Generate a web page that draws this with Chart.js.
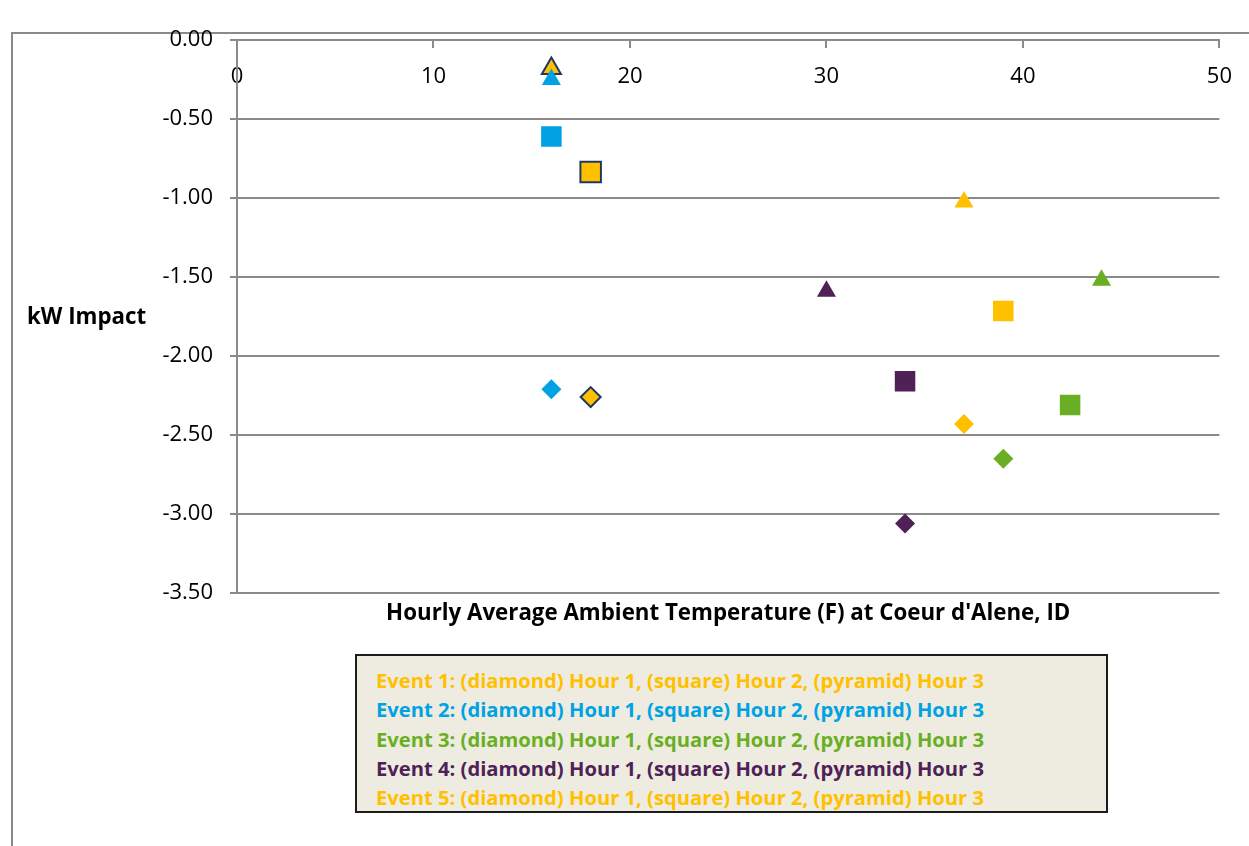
<!DOCTYPE html>
<html>
<head>
<meta charset="utf-8">
<script src="https://cdn.jsdelivr.net/npm/chart.js@4.4.1/dist/chart.umd.min.js"></script>
<style>
  html, body { margin: 0; padding: 0; background: #fff; }
  #wrap { position: relative; width: 1249px; height: 846px; overflow: hidden; }
  #frame { position: absolute; left: 11px; top: 32px; right: -10px; bottom: -10px;
           border-top: 2px solid #8a8a8a; border-left: 2px solid #8a8a8a; }
  #chart { position: absolute; left: 0; top: 0; }
  #legend { position: absolute; left: 355px; top: 654px; width: 753px; height: 159px;
            box-sizing: border-box; background: #EEECE1; border: 2px solid #1c1c1c;
            padding: 10px 0 0 19px; font: bold 20.2px "Open Sans", sans-serif; }
  #legend div { line-height: 29.3px; white-space: nowrap; }
</style>
</head>
<body>
<div id="wrap">
  <div id="frame"></div>
  <canvas id="chart" width="1249" height="846"></canvas>
  <div id="legend"></div>
</div>
<script>
    // Chart data
    var events = ['Event 1', 'Event 2', 'Event 3', 'Event 4', 'Event 5'];
    var eventColors = ['#FFC000', '#00A2E3', '#6AAF23', '#4F2157', '#FFC000'];
    var hourLabels = ['(diamond) Hour 1', '(square) Hour 2', '(pyramid) Hour 3'];
    var hourStyles = ['rectRot', 'rect', 'triangle'];

    // temperature (F) and kW impact, one entry per event
    var tempHour1 = [18, 16, 39, 34, 37];
    var tempHour2 = [18, 16, 42.4, 34, 39];
    var tempHour3 = [16, 16, 44, 30, 37];
    var kwHour1 = [-2.26, -2.21, -2.65, -3.06, -2.43];
    var kwHour2 = [-0.835, -0.61, -2.31, -2.16, -1.715];
    var kwHour3 = [-0.18, -0.25, -1.52, -1.59, -1.025];

    var xTitle = "Hourly Average Ambient Temperature (F) at Coeur d'Alene, ID";
    var yTitle = 'kW Impact';

    // Legend box
    var legend = document.getElementById('legend');
    events.forEach(function(name, i) {
        var line = document.createElement('div');
        line.style.color = eventColors[i];
        line.textContent = name + ': ' + hourLabels.join(', ');
        legend.appendChild(line);
    });

    var datasets = events.map(function(name, i) {
        var outlined = (i === 0);
        return {
            label: name,
            data: [
                {x: tempHour1[i], y: kwHour1[i]},
                {x: tempHour2[i], y: kwHour2[i]},
                {x: tempHour3[i], y: kwHour3[i]}
            ],
            pointStyle: hourStyles,
            pointRadius: [10, 14.5, 11],
            pointHoverRadius: [10, 14.5, 11],
            pointBackgroundColor: eventColors[i],
            pointBorderColor: outlined ? '#1F3864' : eventColors[i],
            pointBorderWidth: outlined ? 2 : 0,
            order: events.length - i
        };
    });

    // Axis titles (horizontal y title, x title under the plot)
    var axisTitles = {
        id: 'axisTitles',
        afterDraw: function(chart) {
            var ctx = chart.ctx, a = chart.chartArea;
            ctx.save();
            ctx.fillStyle = '#000';
            ctx.font = 'bold 22.3px "Open Sans"';
            ctx.textBaseline = 'middle';
            ctx.textAlign = 'left';
            ctx.fillText(yTitle, 27, (a.top + a.bottom) / 2 + 1);
            ctx.textAlign = 'center';
            ctx.fillText(xTitle, (a.left + a.right) / 2, a.bottom + 21);
            ctx.restore();
        }
    };

    var tickFont = {family: 'Open Sans', size: 22};

    new Chart(document.getElementById('chart'), {
        type: 'scatter',
        data: {datasets: datasets},
        options: {
            responsive: false,
            animation: false,
            layout: {padding: {top: 40, right: 29, bottom: 253, left: 0}},
            plugins: {
                legend: {display: false},
                tooltip: {enabled: false}
            },
            scales: {
                x: {
                    type: 'linear',
                    min: 0,
                    max: 50,
                    position: {y: 0},
                    afterFit: function(s) { s.height = 0; },
                    ticks: {stepSize: 10, color: '#000', font: tickFont, padding: 17},
                    grid: {drawOnChartArea: false, drawTicks: true, tickLength: 7, color: '#8a8a8a', lineWidth: 2},
                    border: {display: true, color: '#8a8a8a', width: 2}
                },
                y: {
                    min: -3.5,
                    max: 0,
                    afterFit: function(s) { s.width = 237; },
                    ticks: {
                        stepSize: 0.5,
                        color: '#000',
                        font: tickFont,
                        padding: 17,
                        callback: function(v) { return v.toFixed(2); }
                    },
                    grid: {color: '#8a8a8a', lineWidth: 2, tickLength: 7},
                    border: {color: '#8a8a8a', width: 2}
                }
            }
        },
        plugins: [axisTitles]
    });
</script>
</body>
</html>
